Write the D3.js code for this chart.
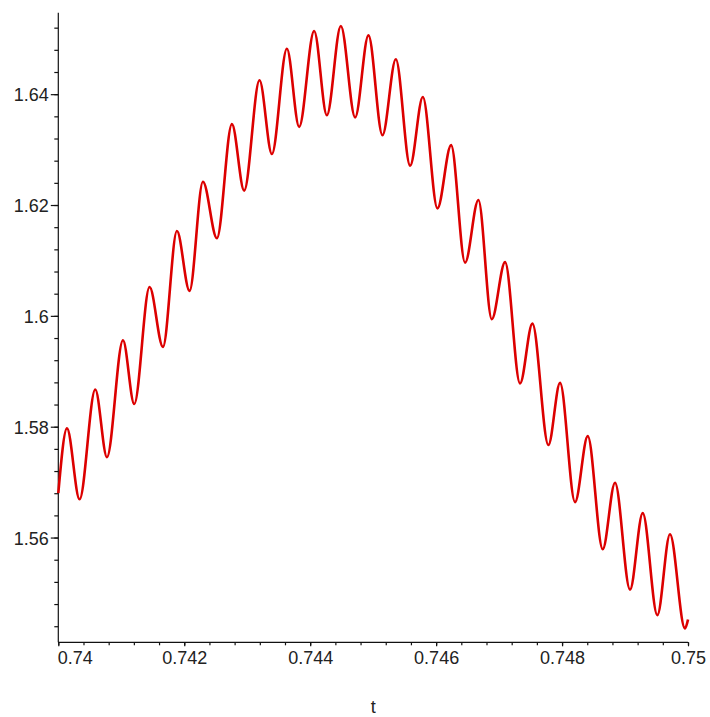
<!DOCTYPE html>
<html>
<head>
<meta charset="utf-8">
<script src="https://cdn.jsdelivr.net/npm/d3@7"></script>
<style>
  html, body { margin: 0; padding: 0; background: #fff; }
  svg text { font-family: "Liberation Sans", Arial, sans-serif; fill: #222; }
</style>
</head>
<body>
<div id="chart"></div>
<script>
// Turning points of the curve (t, value)
const tValues = [
  0.74000, 0.740138, 0.740338, 0.740587, 0.740773, 0.741027, 0.741206, 0.741449,
  0.741662, 0.741884, 0.742084, 0.742297, 0.742519, 0.742757, 0.742952, 0.743195,
  0.743392, 0.743630, 0.743825, 0.744063, 0.744265, 0.744487, 0.744714, 0.744925,
  0.745148, 0.745360, 0.745587, 0.745789, 0.746021, 0.746238, 0.746460, 0.746671,
  0.746884, 0.747095, 0.747333, 0.747529, 0.747783, 0.747968, 0.748206, 0.748408,
  0.748646, 0.748841, 0.749079, 0.749281, 0.749513, 0.749714, 0.749952, 0.75000
];
const yValues = [
  1.5680, 1.5797, 1.5669, 1.5867, 1.5745, 1.5956, 1.5841, 1.6052,
  1.5944, 1.6153, 1.6045, 1.6242, 1.6140, 1.6346, 1.6226, 1.6425,
  1.6292, 1.6482, 1.6341, 1.6514, 1.6362, 1.6523, 1.6358, 1.6506,
  1.6326, 1.6463, 1.6271, 1.6395, 1.6194, 1.6308, 1.6096, 1.6209,
  1.5994, 1.6097, 1.5878, 1.5986, 1.5767, 1.5879, 1.5664, 1.5783,
  1.5579, 1.5699, 1.5506, 1.5644, 1.5460, 1.5606, 1.5436, 1.5452
];

// Axis ranges and tick labels
const xDomain = [0.74, 0.75];
const yDomain = [1.5411, 1.6547];
const xTicks = [0.74, 0.742, 0.744, 0.746, 0.748, 0.75];
const xTickLabels = ["0.74", "0.742", "0.744", "0.746", "0.748", "0.75"];
const yTicks = [1.56, 1.58, 1.6, 1.62, 1.64];
const yTickLabels = ["1.56", "1.58", "1.6", "1.62", "1.64"];
const xLabel = "t";

const width = 710, height = 717;
const plot = { left: 58.3, right: 688, top: 12.7, bottom: 642.3 };

const x = d3.scaleLinear().domain(xDomain).range([plot.left, plot.right]);
const y = d3.scaleLinear().domain(yDomain).range([plot.bottom, plot.top]);

const svg = d3.select("#chart").append("svg")
  .attr("width", width)
  .attr("height", height);

// minor ticks
const xMinor = d3.range(0, 26).map(i => 0.74 + i * 0.0004).filter(v => v <= 0.75 + 1e-9);
const yMinor = d3.range(0, 40).map(i => 1.544 + i * 0.004).filter(v => v > yDomain[0] && v < yDomain[1]);

const xAxisG = svg.append("g").attr("transform", `translate(0,${plot.bottom})`);
xAxisG.append("g")
  .call(d3.axisBottom(x).tickValues(xMinor).tickFormat("").tickSize(3).tickSizeOuter(0))
  .call(g => g.select(".domain").remove());
xAxisG.append("g")
  .call(d3.axisBottom(x).tickValues(xTicks).tickSize(4).tickSizeOuter(0)
    .tickFormat((d, i) => xTickLabels[i]))
  .call(g => g.select(".domain").attr("d", `M${plot.left},0H${plot.right}`))
  .call(g => g.selectAll("text")
    .attr("font-size", 18)
    .attr("font-family", null)
    .attr("dy", null)
    .attr("y", 22)
    .attr("text-anchor", (d, i) => i === 0 ? "start" : "middle")
    .attr("x", (d, i) => i === 0 ? (plot.left - x(d) - 1) : 0));

const yAxisG = svg.append("g").attr("transform", `translate(${plot.left},0)`);
yAxisG.append("g")
  .call(d3.axisLeft(y).tickValues(yMinor).tickFormat("").tickSize(4).tickSizeOuter(0))
  .call(g => g.select(".domain").remove());
yAxisG.append("g")
  .call(d3.axisLeft(y).tickValues(yTicks).tickSize(7.5).tickSizeOuter(0)
    .tickFormat((d, i) => yTickLabels[i]))
  .call(g => g.select(".domain").attr("d", `M0,${plot.top}V${plot.bottom}`))
  .call(g => g.selectAll("text")
    .attr("font-size", 18)
    .attr("font-family", null)
    .attr("x", -9.5)
    .attr("dy", "0.36em"));

svg.selectAll(".tick line, .domain").attr("stroke", "#111").attr("stroke-width", 1.2);

// axis title
svg.append("text")
  .attr("x", (plot.left + plot.right) / 2)
  .attr("y", 713)
  .attr("text-anchor", "middle")
  .attr("font-size", 18)
  .text(xLabel);

// curve
const points = tValues.map((t, i) => [t, yValues[i]]);
const line = d3.line()
  .x(d => x(d[0]))
  .y(d => y(d[1]))
  .curve(d3.curveMonotoneX);

svg.append("path")
  .datum(points)
  .attr("d", line)
  .attr("fill", "none")
  .attr("stroke", "#dc0000")
  .attr("stroke-width", 2.6)
  .attr("stroke-linejoin", "round");
</script>
</body>
</html>
